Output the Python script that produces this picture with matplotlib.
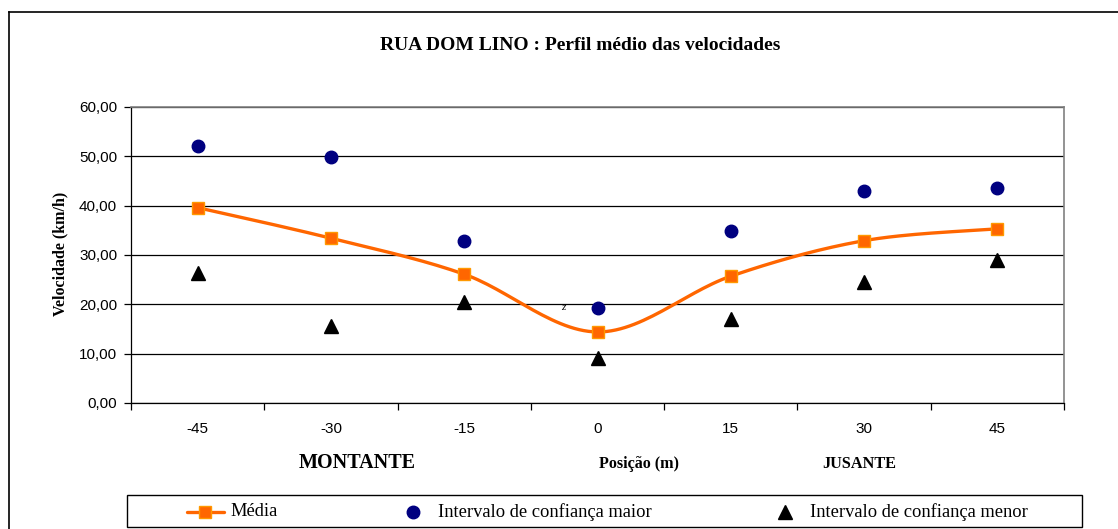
import numpy as np
import matplotlib
matplotlib.use("Agg")
import matplotlib.pyplot as plt
from matplotlib.lines import Line2D
from matplotlib.patches import Rectangle

# ---- data ----
positions = ["-45", "-30", "-15", "0", "15", "30", "45"]
media = [39.6, 33.4, 26.1, 14.4, 25.7, 32.9, 35.3]
ic_maior = [52.1, 49.8, 32.9, 19.3, 34.9, 43.0, 43.6]
ic_menor = [26.3, 15.6, 20.5, 9.1, 17.0, 24.5, 29.0]
yticks = [0, 10, 20, 30, 40, 50, 60]
ytick_labels = ["0,00", "10,00", "20,00", "30,00", "40,00", "50,00", "60,00"]

title = "RUA DOM LINO : Perfil médio das velocidades"
ylabel = "Velocidade (km/h)"
legend_labels = ["Média", "Intervalo de confiança maior", "Intervalo de confiança menor"]

W, H = 1118, 529
fig = plt.figure(figsize=(W / 100, H / 100), dpi=100)
fig.patch.set_facecolor("white")

def fx(px):
    return px / W

def fy(py):
    return 1 - py / H

ax = fig.add_axes([fx(131), fy(403), fx(1064) - fx(131), fy(107) - fy(403)])

x = np.arange(len(positions))

# Excel-style smoothed line (Catmull-Rom Bezier through the points)
def smooth(xs, ys, n=30):
    xs = np.asarray(xs, float)
    ys = np.asarray(ys, float)
    P = np.column_stack([xs, ys])
    out = []
    for i in range(len(P) - 1):
        p0 = P[i - 1] if i > 0 else P[i]
        p1 = P[i]
        p2 = P[i + 1]
        p3 = P[i + 2] if i + 2 < len(P) else P[i + 1]
        c1 = p1 + (p2 - p0) / 6.0
        c2 = p2 - (p3 - p1) / 6.0
        t = np.linspace(0, 1, n)[:, None]
        seg = ((1 - t) ** 3) * p1 + 3 * ((1 - t) ** 2) * t * c1 + 3 * (1 - t) * t ** 2 * c2 + t ** 3 * p2
        out.append(seg if i == 0 else seg[1:])
    S = np.vstack(out)
    return S[:, 0], S[:, 1]

orange = "#FF6600"
orange_edge = "#FF9900"
navy = "#000080"

sx, sy = smooth(x, media)
ax.plot(sx, sy, color=orange, lw=2.4, solid_capstyle="round", zorder=3)
ax.plot(x, media, ls="none", marker="s", ms=9, mfc=orange, mec=orange_edge, mew=1.0, zorder=4)
ax.plot(x, ic_maior, ls="none", marker="o", ms=9, mfc=navy, mec=navy, zorder=4)
ax.plot(x, ic_menor, ls="none", marker="^", ms=10, mfc="black", mec="black", zorder=4)

ax.text(2.74, 19.3, "z", fontsize=8, style="italic", ha="center", va="center",
        family="Liberation Serif", color="black")

ax.set_xlim(-0.5, len(positions) - 0.5)
ax.set_ylim(0, 60)
ax.set_yticks(yticks)
ax.set_yticklabels(ytick_labels, family="Liberation Sans", fontsize=11)
ax.yaxis.grid(True, color="black", lw=0.9)
ax.set_axisbelow(True)

ax.set_xticks(np.arange(-0.5, len(positions)), minor=False)
ax.set_xticklabels([""] * (len(positions) + 1))
ax.set_xticks(x, minor=True)
ax.set_xticklabels(positions, minor=True, family="Liberation Sans", fontsize=11)
ax.tick_params(axis="x", which="major", direction="out", length=5, width=0.9, color="black")
ax.tick_params(axis="x", which="minor", length=0, pad=14)
ax.tick_params(axis="y", direction="out", length=5, width=0.9, color="black", pad=5)

for s in ["top", "right"]:
    ax.spines[s].set_color("#808080")
    ax.spines[s].set_linewidth(1.2)
for s in ["left", "bottom"]:
    ax.spines[s].set_color("black")
    ax.spines[s].set_linewidth(0.9)

# texts
fig.text(fx(580), fy(45), title, ha="center", va="center", fontsize=14,
         fontweight="bold", family="Liberation Serif")
fig.text(fx(60), fy(254), ylabel, ha="center", va="center", rotation=90, fontsize=11.5,
         fontweight="bold", family="Liberation Serif")
fig.text(fx(357), fy(463), "MONTANTE", ha="center", va="center", fontsize=14.5,
         fontweight="bold", family="Liberation Serif")
fig.text(fx(639), fy(464), "Posição (m)", ha="center", va="center", fontsize=11.6,
         fontweight="bold", family="Liberation Serif")
fig.text(fx(859), fy(464), "JUSANTE", ha="center", va="center", fontsize=11.7,
         fontweight="bold", family="Liberation Serif")

# outer frame (left and top edges visible)
fig.add_artist(Line2D([fx(9), fx(9)], [fy(12), 0], transform=fig.transFigure, color="black", lw=1.2))
fig.add_artist(Line2D([fx(9), 1], [fy(12), fy(12)], transform=fig.transFigure, color="black", lw=1.2))

# legend (drawn by hand to match the Excel layout)
tf = fig.transFigure
fig.add_artist(Rectangle((fx(127), fy(527)), fx(1082) - fx(127), fy(495) - fy(527),
                         transform=tf, facecolor="white", edgecolor="black", lw=1.0))
ly = fy(512)
fig.add_artist(Line2D([fx(187), fx(224)], [ly, ly], transform=tf, color=orange, lw=2.4,
                      solid_capstyle="round"))
fig.add_artist(Line2D([fx(205)], [ly], transform=tf, ls="none", marker="s", ms=9,
                      mfc=orange, mec=orange_edge, mew=1.0))
fig.add_artist(Line2D([fx(413)], [ly], transform=tf, ls="none", marker="o", ms=9,
                      mfc=navy, mec=navy))
fig.add_artist(Line2D([fx(785)], [ly], transform=tf, ls="none", marker="^", ms=10,
                      mfc="black", mec="black"))
for lx, lab in zip([230, 438, 810], legend_labels):
    fig.text(fx(lx), ly, lab, ha="left", va="center", fontsize=13.3, family="Liberation Serif")

fig.savefig("out.png", dpi=100, facecolor="white")
